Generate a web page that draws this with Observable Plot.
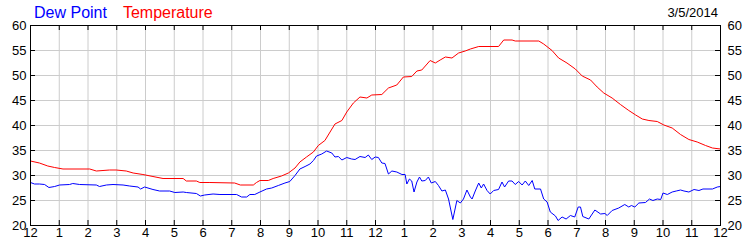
<!DOCTYPE html>
<html>
<head>
<meta charset="utf-8">
<script src="https://cdn.jsdelivr.net/npm/d3@7"></script>
<script src="https://cdn.jsdelivr.net/npm/@observablehq/plot@0.6"></script>
<style>
  html, body { margin: 0; padding: 0; background: #fff; }
  #chart { position: relative; width: 750px; height: 250px; }
</style>
</head>
<body>
<div id="chart"></div>
<script>
const tempHours = [0,0.31,0.6,0.84,1.13,2.06,2.29,2.75,2.98,3.33,3.57,3.91,4.26,4.61,5.31,5.42,5.77,5.89,6.24,7.1,7.3,7.75,7.86,7.98,8.27,8.44,8.73,8.97,9.2,9.37,9.6,9.84,10.01,10.24,10.42,10.59,10.83,11.0,11.23,11.46,11.7,11.87,12.22,12.45,12.74,12.97,13.26,13.44,13.61,13.9,14.08,14.25,14.43,14.66,14.89,15.12,15.3,15.59,16.28,16.46,16.75,16.86,17.68,17.85,18.14,18.37,18.66,18.95,19.19,19.48,19.71,19.94,20.23,20.52,20.81,21.05,21.28,21.51,21.8,22.03,22.32,22.61,22.9,23.19,23.48,23.72,24];
const tempValues = [32.9,32.5,31.9,31.6,31.3,31.3,30.9,31.1,31.1,30.9,30.5,30.2,29.8,29.4,29.4,28.9,28.9,28.6,28.6,28.5,28.1,28.1,28.6,29.0,29.0,29.4,29.9,30.5,31.5,32.7,33.7,34.7,36.0,37.0,38.7,40.3,41.0,42.7,44.5,45.7,45.5,46.1,46.2,47.5,48.1,49.7,49.8,50.9,51.1,53.0,52.5,53.1,53.7,53.5,54.5,54.9,55.3,55.8,55.8,57.1,57.1,56.9,56.9,56.3,55.0,53.5,52.5,51.3,49.9,49.1,47.7,46.5,45.5,44.2,43.0,42.1,41.3,41.0,40.8,40.1,39.5,38.2,37.2,36.7,36.0,35.5,35.3];

const dewHours = [0,0.14,0.31,0.49,0.64,0.84,1.01,1.36,1.47,1.71,2.29,2.4,2.64,2.87,3.22,3.45,3.74,3.83,3.97,4.26,4.49,4.84,5.02,5.31,5.42,5.77,5.91,6.06,6.35,6.59,7.17,7.34,7.52,7.63,7.8,7.98,8.21,8.39,8.62,8.85,9.02,9.2,9.37,9.55,9.72,9.84,9.95,10.13,10.3,10.48,10.59,10.71,10.83,11.0,11.17,11.29,11.46,11.64,11.75,11.87,11.99,12.1,12.22,12.33,12.45,12.57,12.74,12.92,13.03,13.09,13.18,13.26,13.34,13.44,13.53,13.61,13.73,13.84,13.94,14.08,14.19,14.31,14.43,14.54,14.69,14.83,14.95,15.06,15.18,15.3,15.36,15.47,15.59,15.68,15.76,15.88,15.99,16.11,16.28,16.4,16.49,16.63,16.75,16.86,16.98,17.1,17.21,17.33,17.45,17.54,17.74,17.85,17.97,18.08,18.26,18.35,18.49,18.63,18.78,18.93,19.05,19.13,19.21,19.42,19.63,19.83,19.98,20.06,20.23,20.46,20.67,20.81,20.9,21.02,21.16,21.39,21.53,21.65,21.8,21.92,22.0,22.15,22.32,22.46,22.61,22.73,22.9,23.08,23.25,23.39,23.72,23.89,24];
const dewValues = [28.6,28.3,28.3,28.2,27.6,27.8,28.1,28.2,28.4,28.2,28.1,27.8,28.1,28.2,28.1,27.9,27.7,27.3,27.7,27.2,26.9,26.9,26.6,26.7,26.6,26.4,25.9,26.1,26.3,26.2,26.2,25.7,25.7,26.2,26.2,26.7,27.3,27.5,28.0,28.5,28.8,30.0,31.3,31.8,32.3,33.0,33.9,34.3,34.9,34.5,33.7,33.8,33.1,33.6,33.3,33.2,33.8,33.6,34.1,33.2,33.7,33.6,32.5,32.4,30.3,30.9,30.7,30.2,30.2,28.3,29.3,28.9,26.7,28.7,29.7,28.9,29.0,29.7,28.5,28.8,28.0,26.9,27.1,25.3,21.2,25.0,24.5,25.3,27.1,25.7,25.3,26.9,28.5,27.5,28.3,27.0,26.3,27.0,27.2,28.7,27.7,28.9,28.9,28.2,28.8,28.1,28.9,28.0,29.0,27.3,27.3,25.3,24.7,22.7,21.9,21.0,21.7,21.3,22.0,21.7,23.7,23.7,21.8,21.3,23.1,22.3,22.4,22.0,23.0,23.5,24.2,23.7,24.0,23.7,24.5,24.6,25.3,25.0,25.3,25.2,26.5,26.2,26.7,26.9,27.1,26.9,26.7,27.2,27.0,27.3,27.3,27.7,27.8];

const hourTicks = d3.range(0, 25);
const hourLabels = ["12","1","2","3","4","5","6","7","8","9","10","11","12","1","2","3","4","5","6","7","8","9","10","11","12"];
const yTicks = [20,25,30,35,40,45,50,55,60];
const seriesNames = ["Dew Point", "Temperature"];
const seriesColors = ["#0000ff", "#ff0000"];
const dateLabel = "3/5/2014";

const temp = tempHours.map((h, i) => ({h, v: tempValues[i]}));
const dew = dewHours.map((h, i) => ({h, v: dewValues[i]}));

const W = 750, H = 250, mL = 30, mR = 30, mT = 25, mB = 25;
const innerW = W - mL - mR, innerH = H - mT - mB;

const chart = Plot.plot({
  width: W, height: H,
  marginLeft: mL, marginRight: mR, marginTop: mT, marginBottom: mB,
  style: {fontFamily: "'Liberation Sans', Arial, sans-serif", fontSize: "13px", color: "black", background: "white"},
  x: {domain: [0, 24], label: null},
  y: {domain: [20, 60], label: null},
  marks: [
    Plot.gridX(hourTicks, {stroke: "#cccccc", strokeOpacity: 1}),
    Plot.gridY(yTicks, {stroke: "#cccccc", strokeOpacity: 1}),
    Plot.tickX(hourTicks, {x: d => d, stroke: "black", insetTop: innerH - 5}),
    Plot.tickX(hourTicks, {x: d => d, stroke: "black", insetBottom: innerH - 5}),
    Plot.tickY(yTicks, {y: d => d, stroke: "black", insetRight: innerW - 5}),
    Plot.tickY(yTicks, {y: d => d, stroke: "black", insetLeft: innerW - 5}),
    Plot.line(dew, {x: "h", y: "v", stroke: seriesColors[0], strokeWidth: 1}),
    Plot.line(temp, {x: "h", y: "v", stroke: seriesColors[1], strokeWidth: 1}),
    Plot.frame({stroke: "black"}),
    Plot.axisX(hourTicks, {tickSize: 0, tickPadding: 2, tickFormat: d => hourLabels[d], fill: "black", label: null}),
    Plot.axisY(yTicks, {anchor: "left", tickSize: 0, tickPadding: 4, fill: "black", label: null}),
    Plot.axisY(yTicks, {anchor: "right", tickSize: 0, tickPadding: 7, fill: "black", label: null})
  ]
});

const svg = d3.select(chart);
const title = svg.append("text")
  .attr("x", 34).attr("y", 17.5)
  .attr("text-anchor", "start")
  .style("font-family", "'Liberation Sans', Arial, sans-serif")
  .style("font-size", "16px");
title.append("tspan").attr("fill", seriesColors[0]).text(seriesNames[0]);
title.append("tspan").attr("fill", seriesColors[1]).attr("dx", 16).text(seriesNames[1]);
svg.append("text")
  .attr("x", 718).attr("y", 17)
  .attr("text-anchor", "end")
  .attr("fill", "black")
  .style("font-family", "'Liberation Sans', Arial, sans-serif")
  .style("font-size", "13px")
  .text(dateLabel);

document.getElementById("chart").appendChild(chart);
</script>
</body>
</html>
